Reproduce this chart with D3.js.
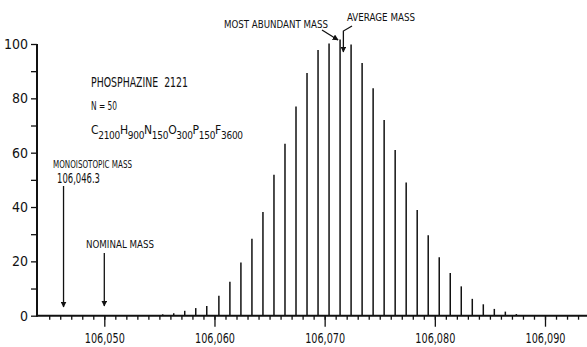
<!DOCTYPE html>
<html>
<head>
<meta charset="utf-8">
<script src="https://cdn.jsdelivr.net/npm/d3@7"></script>
<style>
  body { margin: 0; background: #fff; }
  svg { display: block; }
  text { font-family: "Liberation Sans Narrow", "DejaVu Sans Condensed", sans-serif; fill: #111; white-space: pre; }
</style>
</head>
<body>
<svg width="587" height="347"></svg>
<script>
// isotope peak masses and relative abundances
const masses = [
  106055.3, 106056.3, 106057.3, 106058.3, 106059.3, 106060.4, 106061.4, 106062.4,
  106063.4, 106064.4, 106065.4, 106066.4, 106067.4, 106068.4, 106069.4, 106070.4,
  106071.4, 106072.4, 106073.4, 106074.4, 106075.4, 106076.4, 106077.4, 106078.4,
  106079.4, 106080.4, 106081.4, 106082.4, 106083.4, 106084.4, 106085.4, 106086.4,
  106087.4
];
const abundances = [
  0.5, 0.9, 1.8, 2.8, 3.6, 7.3, 12.5, 19.6,
  28.3, 38.2, 51.9, 63.3, 77, 89.3, 97.8, 100.2,
  101.7, 99.8, 93, 83.7, 72, 61, 49, 38.9,
  29.6, 21.5, 15.7, 10.8, 6.2, 4.2, 2.5, 1.5,
  0.6
];
const xMajorTicks = [106050, 106060, 106070, 106080, 106090];
const yTicks = [0, 10, 20, 30, 40, 50, 60, 70, 80, 90, 100];
const yTickLabels = [0, 20, 40, 60, 80, 100];

const monoisotopicMass = 106046.3;
const nominalMass = 106050;
const mostAbundantMass = 106071.4;
const averageMass = 106071.7;

const svg = d3.select('svg');
const ink = '#111';

const x = d3.scaleLinear().domain([106050, 106090]).range([104.3, 545]);
const y = d3.scaleLinear().domain([0, 100]).range([315.7, 44]);

const axisLeftX = 37;

/* ---------- axes ---------- */
// x axis: minor ticks every unit, longer ticks every 10
const minorTicks = d3.range(106045, 106094);
svg.append('g')
  .attr('transform', `translate(0, ${y(0)})`)
  .call(d3.axisBottom(x).tickValues(minorTicks).tickSize(4).tickFormat(''))
  .call(g => g.select('.domain').remove());

svg.append('g')
  .attr('transform', `translate(0, ${y(0)})`)
  .call(d3.axisBottom(x).tickValues(xMajorTicks).tickSize(11).tickPadding(6).tickFormat(d3.format(',')))
  .call(g => g.select('.domain').remove())
  .call(g => g.selectAll('text')
    .attr('font-size', 14).style('font-family', null)
    .attr('textLength', 40).attr('lengthAdjust', 'spacingAndGlyphs'));

svg.append('line')
  .attr('x1', axisLeftX).attr('x2', 587)
  .attr('y1', y(0)).attr('y2', y(0))
  .attr('stroke', ink).attr('stroke-width', 2);

// y axis
svg.append('g')
  .attr('transform', `translate(${axisLeftX}, 0)`)
  .call(d3.axisLeft(y).tickValues(yTicks).tickSize(6).tickPadding(3)
    .tickFormat(d => yTickLabels.includes(d) ? d : ''))
  .call(g => g.select('.domain').remove())
  .call(g => g.selectAll('text').attr('font-size', 14).style('font-family', null));

svg.append('line')
  .attr('x1', axisLeftX).attr('x2', axisLeftX)
  .attr('y1', y(100)).attr('y2', y(0) + 1)
  .attr('stroke', ink).attr('stroke-width', 2);

svg.selectAll('.tick line').attr('stroke', ink).attr('stroke-width', 1.3);

/* ---------- peaks ---------- */
svg.append('g')
  .selectAll('line')
  .data(masses)
  .enter()
  .append('line')
  .attr('x1', d => x(d)).attr('x2', d => x(d))
  .attr('y1', y(0))
  .attr('y2', (d, i) => y(abundances[i]))
  .attr('stroke', ink)
  .attr('stroke-width', 1.5);

/* ---------- annotations ---------- */
svg.append('defs').append('marker')
  .attr('id', 'head')
  .attr('viewBox', '0 0 10 10')
  .attr('refX', 9).attr('refY', 5)
  .attr('markerWidth', 6).attr('markerHeight', 6)
  .attr('markerUnits', 'userSpaceOnUse')
  .attr('orient', 'auto')
  .append('path')
  .attr('d', 'M0,0 L10,5 L0,10 Z')
  .attr('fill', ink);

function label(txt, tx, ty, size, len) {
  const t = svg.append('text')
    .attr('x', tx).attr('y', ty)
    .attr('font-size', size)
    .text(txt);
  if (len) t.attr('textLength', len).attr('lengthAdjust', 'spacingAndGlyphs');
  return t;
}

function arrow(points) {
  svg.append('path')
    .attr('d', d3.line()(points))
    .attr('fill', 'none')
    .attr('stroke', ink)
    .attr('stroke-width', 1.3)
    .attr('marker-end', 'url(#head)');
}

label('MOST ABUNDANT MASS', 224, 28, 11, 104);
arrow([[322, 30], [x(mostAbundantMass) - 2, 40]]);

label('AVERAGE MASS', 347, 21, 11, 68);
arrow([[352, 26], [x(averageMass), 31], [x(averageMass), 52]]);

label('PHOSPHAZINE  2121', 91, 87, 14, 97);
label('N = 50', 91, 110, 12, 26);

// molecular formula with subscripts
const formula = [['C', '2100'], ['H', '900'], ['N', '150'], ['O', '300'], ['P', '150'], ['F', '3600']];
const ft = svg.append('text').attr('x', 91).attr('y', 134).attr('font-size', 12)
  .attr('letter-spacing', -0.3);
formula.forEach(([el, n], i) => {
  ft.append('tspan').text(el).attr('dy', i === 0 ? 0 : -5);
  ft.append('tspan').text(n).attr('font-size', 10).attr('dy', 5);
});

label('MONOISOTOPIC MASS', 53, 168, 10, 79);
label('106,046.3', 57, 183, 14, 43);
arrow([[x(monoisotopicMass), 186], [x(monoisotopicMass), 307]]);

label('NOMINAL MASS', 86, 248, 10, 68);
arrow([[x(nominalMass), 253], [x(nominalMass), 306]]);
</script>
</body>
</html>
